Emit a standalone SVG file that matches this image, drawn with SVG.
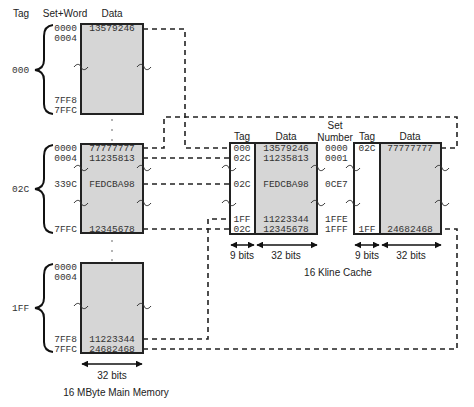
<svg xmlns="http://www.w3.org/2000/svg" width="474" height="407" viewBox="0 0 474 407">
<style>
.lbl{font-family:"Liberation Sans",Arial,sans-serif;font-size:10px;fill:#222}
.hex{font-family:"Liberation Mono","Courier New",monospace;font-size:9.5px;fill:#333}
.mid{text-anchor:middle}
.end{text-anchor:end}
.box{fill:#d6d6d6;stroke:#222;stroke-width:2}
.wbox{fill:#fff;stroke:#222;stroke-width:2}
.dash{fill:none;stroke:#222;stroke-width:1.6;stroke-dasharray:5 4}
.brace{fill:none;stroke:#111;stroke-width:2}
.til{fill:none;stroke:#333;stroke-width:1}
.arr{stroke:#111;stroke-width:1.5;marker-start:url(#ah);marker-end:url(#ah)}
.dot{fill:#555}
</style>
<defs>
<marker id="ah" viewBox="0 0 10 10" refX="9" refY="5" markerWidth="7" markerHeight="7" markerUnits="userSpaceOnUse" orient="auto-start-reverse"><path d="M0,0 L10,5 L0,10 Z" fill="#111"/></marker>
<path id="tl" class="til" d="M-7,0 C-4,-4 -1,-3 0,0 C1,3 4,4 7,0"/>
</defs>

<g id="connectors">
<path class="dash" d="M143,29 H185 V148 H230"/>
<path class="dash" d="M143,148 H164 V117 H457 V148 H441"/>
<path class="dash" d="M143,158 H230"/>
<path class="dash" d="M143,184 H230"/>
<path class="dash" d="M143,229 H230"/>
<path class="dash" d="M143,339 H208 V219 H230"/>
<path class="dash" d="M143,349 H457 V229 H441"/>
</g>

<g id="mm-headers">
<text class="lbl mid" x="21" y="17">Tag</text>
<text class="lbl mid" x="65" y="17">Set+Word</text>
<text class="lbl mid" x="112" y="17">Data</text>
</g>

<g id="mm-block-000">
<rect class="box" x="81" y="24" width="62" height="90"/>
<path class="brace" d="M53,25 Q44,26 44,36 V60 Q44,69 35,70 Q44,71 44,80 V104 Q44,113 53,114"/>
<text class="hex" x="12" y="73">000</text>
<text class="hex end" x="77" y="31">0000</text>
<text class="hex end" x="77" y="41">0004</text>
<text class="hex end" x="77" y="103">7FF8</text>
<text class="hex end" x="77" y="113">7FFC</text>
<text class="hex mid" x="112" y="31">13579246</text>
<use href="#tl" x="81" y="67"/>
<use href="#tl" x="144" y="67"/>
</g>

<g id="mm-dots">
<circle class="dot" cx="112" cy="120" r="0.8"/>
<circle class="dot" cx="112" cy="130" r="0.8"/>
<circle class="dot" cx="112" cy="140" r="0.8"/>
<circle class="dot" cx="112" cy="241" r="0.8"/>
<circle class="dot" cx="112" cy="251" r="0.8"/>
<circle class="dot" cx="112" cy="260" r="0.8"/>
</g>

<g id="mm-block-02C">
<rect class="box" x="81" y="144" width="62" height="89"/>
<path class="brace" d="M53,145 Q44,146 44,156 V179 Q44,188 35,189 Q44,190 44,199 V223 Q44,232 53,233"/>
<text class="hex" x="12" y="192">02C</text>
<text class="hex end" x="77" y="151">0000</text>
<text class="hex end" x="77" y="161">0004</text>
<text class="hex end" x="77" y="187">339C</text>
<text class="hex end" x="77" y="232">7FFC</text>
<text class="hex mid" x="112" y="151">77777777</text>
<text class="hex mid" x="112" y="161">11235813</text>
<text class="hex mid" x="112" y="187">FEDCBA98</text>
<text class="hex mid" x="112" y="232">12345678</text>
<use href="#tl" x="81" y="168"/>
<use href="#tl" x="144" y="168"/>
<use href="#tl" x="81" y="203"/>
<use href="#tl" x="144" y="203"/>
</g>

<g id="mm-block-1FF">
<rect class="box" x="81" y="263" width="62" height="90"/>
<path class="brace" d="M53,264 Q44,265 44,275 V298 Q44,307 35,308 Q44,309 44,318 V342 Q44,351 53,352"/>
<text class="hex" x="12" y="311">1FF</text>
<text class="hex end" x="77" y="270">0000</text>
<text class="hex end" x="77" y="280">0004</text>
<text class="hex end" x="77" y="342">7FF8</text>
<text class="hex end" x="77" y="352">7FFC</text>
<text class="hex mid" x="112" y="342">11223344</text>
<text class="hex mid" x="112" y="352">24682468</text>
<use href="#tl" x="81" y="306"/>
<use href="#tl" x="144" y="306"/>
</g>

<g id="mm-width">
<line class="arr" x1="82" y1="364" x2="142" y2="364"/>
<text class="lbl mid" x="112" y="379">32 bits</text>
<text class="lbl mid" x="116" y="396">16 MByte Main Memory</text>
</g>

<g id="cache-way-0">
<text class="lbl mid" x="242" y="140">Tag</text>
<text class="lbl mid" x="286" y="140">Data</text>
<rect class="wbox" x="230" y="143" width="25" height="91"/>
<rect class="box" x="255" y="143" width="62" height="91"/>
<text class="hex mid" x="242" y="151">000</text>
<text class="hex mid" x="242" y="161">02C</text>
<text class="hex mid" x="242" y="187">02C</text>
<text class="hex mid" x="242" y="222">1FF</text>
<text class="hex mid" x="242" y="232">02C</text>
<text class="hex mid" x="286" y="151">13579246</text>
<text class="hex mid" x="286" y="161">11235813</text>
<text class="hex mid" x="286" y="187">FEDCBA98</text>
<text class="hex mid" x="286" y="222">11223344</text>
<text class="hex mid" x="286" y="232">12345678</text>
<use href="#tl" x="229" y="168"/>
<use href="#tl" x="318" y="168"/>
<use href="#tl" x="229" y="203"/>
<use href="#tl" x="318" y="203"/>
<line class="arr" x1="231" y1="245" x2="254" y2="245"/>
<line class="arr" x1="257" y1="245" x2="317" y2="245"/>
<text class="lbl mid" x="242" y="259">9 bits</text>
<text class="lbl mid" x="286" y="259">32 bits</text>
</g>

<g id="set-number">
<text class="lbl mid" x="335" y="129">Set</text>
<text class="lbl mid" x="335" y="141">Number</text>
<text class="hex" x="325" y="151">0000</text>
<text class="hex" x="325" y="161">0001</text>
<text class="hex" x="325" y="187">0CE7</text>
<text class="hex" x="325" y="222">1FFE</text>
<text class="hex" x="325" y="232">1FFF</text>
</g>

<g id="cache-way-1">
<text class="lbl mid" x="367" y="140">Tag</text>
<text class="lbl mid" x="410" y="140">Data</text>
<rect class="wbox" x="354" y="143" width="26" height="91"/>
<rect class="box" x="380" y="143" width="61" height="91"/>
<text class="hex mid" x="367" y="151">02C</text>
<text class="hex mid" x="367" y="232">1FF</text>
<text class="hex mid" x="410" y="151">77777777</text>
<text class="hex mid" x="410" y="232">24682468</text>
<use href="#tl" x="353" y="168"/>
<use href="#tl" x="442" y="168"/>
<use href="#tl" x="353" y="203"/>
<use href="#tl" x="442" y="203"/>
<line class="arr" x1="355" y1="245" x2="379" y2="245"/>
<line class="arr" x1="382" y1="245" x2="441" y2="245"/>
<text class="lbl mid" x="367" y="259">9 bits</text>
<text class="lbl mid" x="411" y="259">32 bits</text>
</g>

<text class="lbl mid" x="338" y="276">16 Kline Cache</text>
</svg>
